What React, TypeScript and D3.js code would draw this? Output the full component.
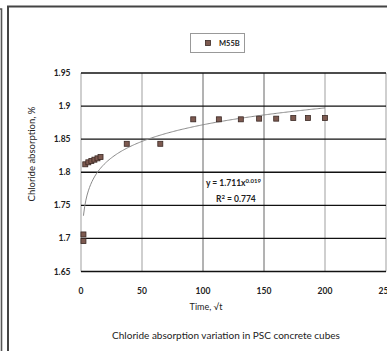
import React, { useEffect, useRef } from 'react';
import { select, scaleLinear, line, range } from 'd3';

// readings (x = sqrt of time, y = chloride absorption %)
const timeRoot = [2, 2, 3.5, 6, 8.5, 11, 13.5, 16, 37.5, 65, 92, 113, 131, 146, 160, 174, 186, 200];
const absorption = [1.696, 1.706, 1.812, 1.815, 1.817, 1.819, 1.821, 1.823, 1.843, 1.843, 1.880, 1.880, 1.880, 1.881, 1.881, 1.882, 1.882, 1.882];
const xTicks = [0, 50, 100, 150, 200, 250];
const yTicks = [1.65, 1.7, 1.75, 1.8, 1.85, 1.9, 1.95];
const greyVerticals = [0, 50, 200, 250];
const seriesName = 'M55B';
const trendA = 1.711;
const trendB = 0.0195;

const FONT = 'Lato, "Open Sans", sans-serif';

const App = () => {
    const ref = useRef<SVGSVGElement>(null);

    useEffect(() => {
        const svg = select(ref.current);
        svg.selectAll('*').remove();

        const x = scaleLinear().domain([0, 250]).range([81, 386]);
        const y = scaleLinear().domain([1.65, 1.95]).range([271.5, 73]);

        // outer frame lines
        svg.append('path')
            .attr('d', 'M1.5,351 L1.5,9 L0,9')
            .attr('fill', 'none').attr('stroke', '#555').attr('stroke-width', 1.6);
        svg.append('path')
            .attr('d', 'M8,351 L8,6.5 L387,6.5')
            .attr('fill', 'none').attr('stroke', '#444').attr('stroke-width', 2);

        // vertical grid
        svg.append('g')
            .selectAll('line')
            .data(xTicks)
            .enter().append('line')
            .attr('x1', (d) => x(d)).attr('x2', (d) => x(d))
            .attr('y1', y(1.95)).attr('y2', y(1.65))
            .attr('stroke', (d) => greyVerticals.includes(d) ? '#b5b5b5' : '#555')
            .attr('stroke-width', (d) => greyVerticals.includes(d) ? 1.3 : 0.9);

        // horizontal grid
        svg.append('g')
            .selectAll('line')
            .data(yTicks)
            .enter().append('line')
            .attr('x1', x(0)).attr('x2', x(250))
            .attr('y1', (d) => y(d)).attr('y2', (d) => y(d))
            .attr('stroke', '#111')
            .attr('stroke-width', 1.3);

        // tick labels
        svg.append('g')
            .selectAll('text')
            .data(yTicks)
            .enter().append('text')
            .attr('x', 70.5)
            .attr('y', (d) => y(d) + 3)
            .attr('text-anchor', 'end')
            .attr('font-family', FONT).attr('font-weight', 'bold').attr('font-size', 8.5)
            .attr('fill', '#222')
            .text((d) => String(d));

        svg.append('g')
            .selectAll('text')
            .data(xTicks)
            .enter().append('text')
            .attr('x', (d) => x(d))
            .attr('y', 294)
            .attr('text-anchor', 'middle')
            .attr('font-family', FONT).attr('font-weight', 'bold').attr('font-size', 8.5)
            .attr('fill', '#222')
            .text((d) => String(d));

        // trend line y = a x^b over the data range
        const xs = range(2, 200.01, 1);
        const trend = line<number>()
            .x((d) => x(d))
            .y((d) => y(trendA * Math.pow(d, trendB)));
        svg.append('path')
            .datum(xs)
            .attr('d', trend)
            .attr('fill', 'none')
            .attr('stroke', '#8a8a8a')
            .attr('stroke-width', 1);

        // data markers
        svg.append('g')
            .selectAll('rect')
            .data(timeRoot.map((t, i) => ({ t, v: absorption[i] })))
            .enter().append('rect')
            .attr('x', (d) => x(d.t) - 2.5)
            .attr('y', (d) => y(d.v) - 2.5)
            .attr('width', 5).attr('height', 5)
            .attr('fill', '#7d5a50')
            .attr('stroke', '#3a2824')
            .attr('stroke-width', 0.8);

        // equation
        const eq = svg.append('text')
            .attr('x', 206).attr('y', 186)
            .attr('font-family', FONT).attr('font-weight', 'bold').attr('font-size', 8.5)
            .attr('fill', '#222');
        eq.append('tspan').text('y = ' + trendA + 'x');
        eq.append('tspan').attr('dy', -3.5).attr('font-size', 6).text('0.019');
        const r2 = svg.append('text')
            .attr('x', 216).attr('y', 202)
            .attr('font-family', FONT).attr('font-weight', 'bold').attr('font-size', 8.5)
            .attr('fill', '#222');
        r2.append('tspan').text('R');
        r2.append('tspan').attr('dy', -3.5).attr('font-size', 6).text('2');
        r2.append('tspan').attr('dy', 3.5).text(' = 0.774');

        // legend
        svg.append('rect')
            .attr('x', 190.5).attr('y', 33.5).attr('width', 54).attr('height', 19)
            .attr('fill', '#fff').attr('stroke', '#999').attr('stroke-width', 1);
        svg.append('rect')
            .attr('x', 205.5).attr('y', 40.5).attr('width', 5).attr('height', 5)
            .attr('fill', '#7d5a50').attr('stroke', '#3a2824').attr('stroke-width', 0.8);
        svg.append('text')
            .attr('x', 219).attr('y', 46)
            .attr('font-family', FONT).attr('font-weight', 'bold').attr('font-size', 7.5)
            .attr('fill', '#222')
            .text(seriesName);

        // axis titles and caption
        svg.append('text')
            .attr('transform', 'translate(35,154) rotate(-90)')
            .attr('text-anchor', 'middle')
            .attr('font-family', FONT).attr('font-size', 9.5).attr('fill', '#222')
            .text('Chloride absorption, %');
        svg.append('text')
            .attr('x', 206).attr('y', 310)
            .attr('text-anchor', 'middle')
            .attr('font-family', FONT).attr('font-size', 9).attr('fill', '#222')
            .text('Time, \u221At');
        svg.append('text')
            .attr('x', 226).attr('y', 339)
            .attr('text-anchor', 'middle')
            .attr('font-family', FONT).attr('font-size', 10).attr('fill', '#222')
            .text('Chloride absorption variation in PSC concrete cubes');
    }, []);

    return (
        <svg ref={ref} width="387" height="351"
            style={{ position: 'absolute', left: 0, top: 0, background: '#fff' }}>
        </svg>
    );
};

export default App;
